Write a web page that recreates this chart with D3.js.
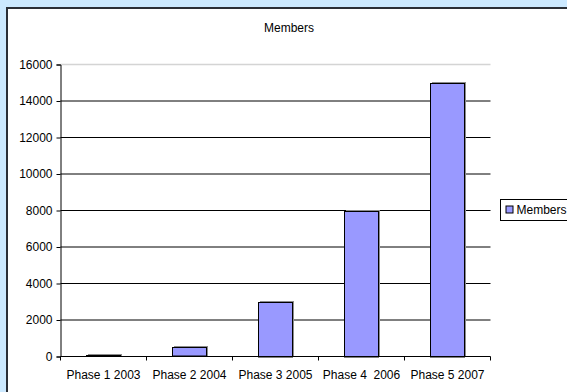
<!DOCTYPE html>
<html>
<head>
<meta charset="utf-8">
<script src="https://cdn.jsdelivr.net/npm/d3@7"></script>
<style>
  html, body { margin: 0; overflow: hidden; background: #cce9ff; }
  #chart { width: 567px; height: 392px; overflow: hidden; }
  svg { display: block; font-family: "Liberation Sans", Arial, sans-serif; }
</style>
</head>
<body>
<div id="chart"></div>
<script>
var categories = ["Phase 1 2003", "Phase 2 2004", "Phase 3 2005", "Phase 4  2006", "Phase 5 2007"];
var members = [80, 500, 3000, 8000, 15000];
var yTicks = [0, 2000, 4000, 6000, 8000, 10000, 12000, 14000, 16000];

var W = 567, H = 392;
var svg = d3.select("#chart").append("svg")
    .attr("width", W + 30)
    .attr("height", H + 30);

// chart frame: white area, dark border on top and left only
svg.append("rect")
    .attr("x", 7).attr("y", 8)
    .attr("width", W + 30).attr("height", H + 30)
    .attr("fill", "#fff");
svg.append("path")
    .attr("d", "M7," + (H + 30) + "V8H" + (W + 30))
    .attr("fill", "none")
    .attr("stroke", "#2b2f36")
    .attr("stroke-width", 2);

var plot = { left: 60.5, right: 490.5, top: 64.5, bottom: 356.5 };

var x = d3.scaleBand()
    .domain(categories)
    .range([plot.left, plot.right]);

var y = d3.scaleLinear()
    .domain([0, 16000])
    .range([plot.bottom, plot.top]);

// gridlines
svg.append("g").selectAll("line")
    .data(yTicks.filter(function (d) { return d > 0; }))
    .enter().append("line")
    .attr("x1", plot.left).attr("x2", plot.right)
    .attr("y1", function (d) { return y(d); })
    .attr("y2", function (d) { return y(d); })
    .attr("stroke", function (d) { return d === 16000 ? "#d4d4d4" : "#000"; })
    .attr("stroke-width", function (d) { return d === 16000 ? 1.5 : 1; });

// bars with shadow
var barW = x.bandwidth() / 2.5;
var bars = svg.append("g").selectAll("g")
    .data(categories)
    .enter().append("g");

bars.append("rect")
    .attr("x", function (d) { return Math.round(x(d) + (x.bandwidth() - barW) / 2) + 2; })
    .attr("y", function (d, i) { return Math.round(y(members[i])) - 1; })
    .attr("width", Math.round(barW))
    .attr("height", function (d, i) { return Math.round(plot.bottom - y(members[i])) + 1; })
    .attr("fill", "#8c8c8c");

bars.append("rect")
    .attr("x", function (d) { return Math.round(x(d) + (x.bandwidth() - barW) / 2) + 0.5; })
    .attr("y", function (d, i) { return Math.round(y(members[i])) + 0.5; })
    .attr("width", Math.round(barW))
    .attr("height", function (d, i) { return Math.max(0, Math.round(plot.bottom - y(members[i])) - 0.5); })
    .attr("fill", "#9999ff")
    .attr("stroke", "#000")
    .attr("stroke-width", 1);

// y axis
var yAxis = svg.append("g")
    .attr("transform", "translate(" + plot.left + ",0)")
    .call(d3.axisLeft(y).tickValues(yTicks).tickSize(4).tickPadding(4).tickFormat(d3.format("d")));
yAxis.select(".domain").attr("stroke", "#000");
yAxis.selectAll("text").attr("font-size", 12).attr("fill", "#000")
    .attr("font-family", "Liberation Sans, Arial, sans-serif");

// x axis
var xAxis = svg.append("g")
    .attr("transform", "translate(0," + plot.bottom + ")")
    .call(d3.axisBottom(x).tickSize(0).tickPadding(14));
xAxis.select(".domain").attr("d", "M" + plot.left + ",0H" + plot.right).attr("stroke", "#000");
xAxis.selectAll("text").attr("font-size", 12).attr("fill", "#000")
    .attr("font-family", "Liberation Sans, Arial, sans-serif")
    .style("white-space", "pre");
xAxis.selectAll(".sep")
    .data(d3.range(categories.length + 1))
    .enter().append("line")
    .attr("class", "sep")
    .attr("x1", function (i) { return plot.left + i * x.step(); })
    .attr("x2", function (i) { return plot.left + i * x.step(); })
    .attr("y1", 0).attr("y2", 4)
    .attr("stroke", "#000");

// title
svg.append("text")
    .attr("x", 289)
    .attr("y", 32)
    .attr("text-anchor", "middle")
    .attr("font-size", 12)
    .text("Members");

// legend
var lg = svg.append("g").attr("transform", "translate(500.5,199.5)");
lg.append("rect")
    .attr("width", 75).attr("height", 21)
    .attr("fill", "#fff").attr("stroke", "#000");
lg.append("rect")
    .attr("x", 5.5).attr("y", 6.5)
    .attr("width", 7).attr("height", 7)
    .attr("fill", "#9999ff").attr("stroke", "#000");
lg.append("text")
    .attr("x", 16).attr("y", 14.5)
    .attr("font-size", 12)
    .text("Members");
</script>
</body>
</html>
